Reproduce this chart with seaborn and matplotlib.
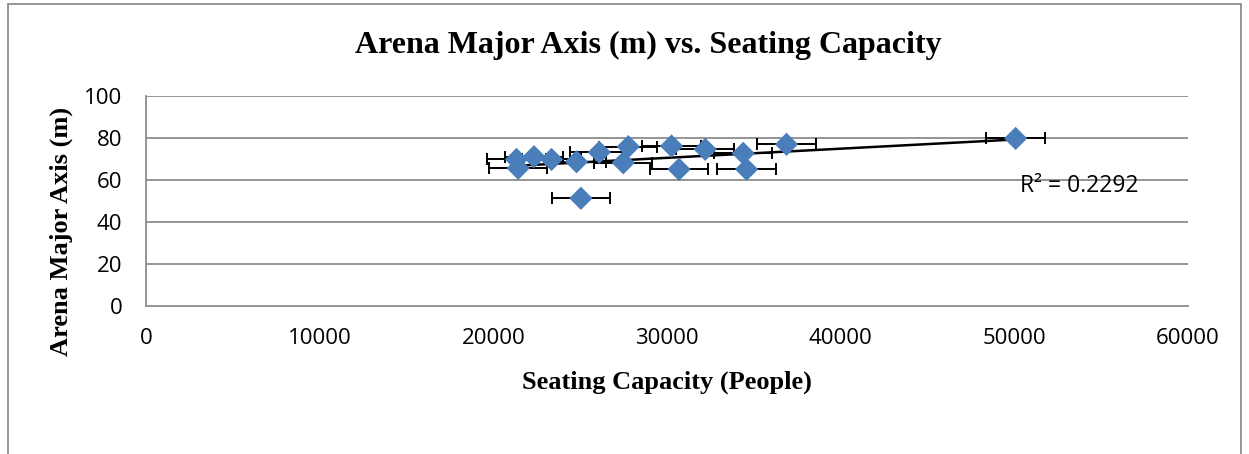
import numpy as np
import pandas as pd
import matplotlib
matplotlib.use("Agg")
import matplotlib.pyplot as plt
import seaborn as sns
from matplotlib.patches import Rectangle

# seating capacity (people) and arena major axis (m)
capacity = [21330, 21430, 22340, 23350, 24790, 25040, 26100, 27480, 27770,
            30260, 30690, 32200, 34390, 34580, 36880, 50070]
major_axis = [69.8, 65.6, 71.1, 69.8, 68.7, 51.3, 73.2, 68.2, 75.9,
              76.2, 65.1, 74.6, 72.7, 65.1, 77.0, 79.8]
x_err = 1680
r2_text = "R² = 0.2292"

df = pd.DataFrame({"capacity": capacity, "axis": major_axis})

sns.set_style("white")
plt.rcParams["font.family"] = ["Open Sans", "DejaVu Sans"]
plt.rcParams["text.color"] = "black"
plt.rcParams["axes.labelcolor"] = "black"
plt.rcParams["xtick.color"] = "black"
plt.rcParams["ytick.color"] = "black"

fig = plt.figure(figsize=(12.49, 4.54), dpi=100)
ax = fig.add_axes([0.1169, 0.326, 0.9512 - 0.1169, 0.7885 - 0.326])

grid_c = "#8c8c8c"
for yv in [20, 40, 60, 80, 100]:
    ax.axhline(yv, color=grid_c, lw=1.3, zorder=0)

ax.errorbar(df["capacity"], df["axis"], xerr=x_err, fmt="none", ecolor="black",
            elinewidth=1.4, capsize=4.5, capthick=1.4, zorder=2)
sns.regplot(data=df, x="capacity", y="axis", scatter=False, ci=None, truncate=True,
            color="black", line_kws={"lw": 1.8, "zorder": 3}, ax=ax)
sns.scatterplot(data=df, x="capacity", y="axis", marker="D", s=140, color="#4a7ebb",
                edgecolor="none", zorder=4, ax=ax)

ax.text(50300, 57, r2_text, fontsize=16.5, va="center", ha="left")

ax.set_xlim(0, 60000)
ax.set_ylim(0, 100)
ax.set_xticks(range(0, 60001, 10000))
ax.set_yticks(range(0, 101, 20))
ax.tick_params(labelsize=16, length=6, color=grid_c, direction="out", width=1.3,
               labelcolor="black")
for s in ["top", "right"]:
    ax.spines[s].set_visible(False)
for s in ["left", "bottom"]:
    ax.spines[s].set_color(grid_c)
    ax.spines[s].set_linewidth(1.3)
ax.tick_params(axis="x", pad=10)
ax.tick_params(axis="y", pad=11)

serif = ["Liberation Serif", "DejaVu Serif"]
ax.set_xlabel("Seating Capacity (People)", fontsize=19, fontweight="bold", family=serif)
ax.set_ylabel("Arena Major Axis (m)", fontsize=19, fontweight="bold", family=serif)
ax.xaxis.set_label_coords(0.5, -65 / 210, transform=ax.transAxes)
ax.yaxis.set_label_coords(-73 / 1042, 0.357, transform=ax.transAxes)
fig.text(0.519, 0.90, "Arena Major Axis (m) vs. Seating Capacity", fontsize=23,
         fontweight="bold", family=serif, ha="center", va="center")

fig.patches.append(Rectangle((8 / 1249, -0.05), (1241 - 8) / 1249, 1 - 4 / 454 + 0.05,
                             transform=fig.transFigure, fill=False, edgecolor="#8c8c8c", lw=1.3))

fig.savefig("out.png", dpi=100)
